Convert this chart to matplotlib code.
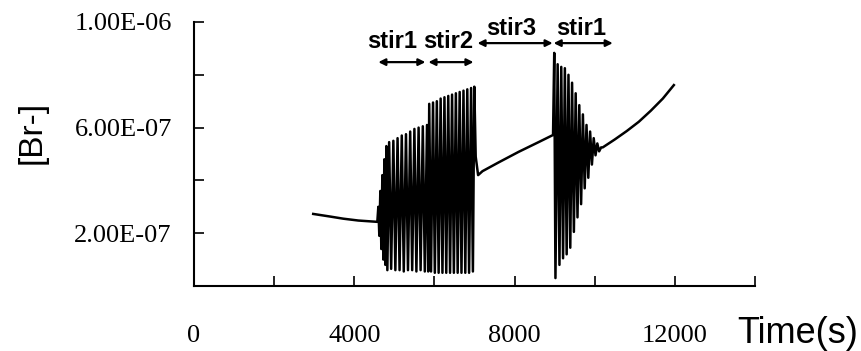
import numpy as np
import matplotlib.pyplot as plt

# concentration values are in units of 1e-7 M
scale = 1e-7

t_base = [2975, 3400, 3725, 4100, 4575]
c_base = [2.73, 2.63, 2.55, 2.48, 2.43]

t_stir1 = [4600, 4625, 4650, 4675, 4700, 4725, 4750, 4775, 4800, 4825,
           4870, 4920, 4975, 5025, 5080, 5130, 5185, 5235, 5290, 5340,
           5395, 5445, 5500, 5550, 5605, 5655, 5710, 5760, 5815, 5845]
c_stir1 = [3.0, 1.9, 3.6, 1.4, 4.2, 1.0, 4.8, 0.8, 5.3, 0.6,
           5.45, 0.65, 5.5, 0.6, 5.6, 0.6, 5.7, 0.55, 5.75, 0.6,
           5.85, 0.6, 5.95, 0.55, 6.0, 0.6, 6.05, 0.55, 6.1, 0.55]

t_stir2 = [5870, 5915, 5965, 6010, 6060, 6105, 6155, 6200, 6250, 6295,
           6345, 6390, 6440, 6485, 6535, 6580, 6630, 6675, 6725, 6770,
           6820, 6865, 6915, 6960, 6995, 7030, 7090]
c_stir2 = [6.9, 0.55, 6.95, 0.5, 7.0, 0.5, 7.1, 0.5, 7.15, 0.5,
           7.2, 0.5, 7.25, 0.5, 7.3, 0.5, 7.35, 0.5, 7.4, 0.5,
           7.45, 0.5, 7.5, 0.55, 7.55, 4.9, 4.2]

t_stir3 = [7200, 7600, 8100, 8600, 8960]
c_stir3 = [4.35, 4.68, 5.08, 5.45, 5.72]

t_stir1b = [8990, 9020, 9075, 9120, 9165, 9210, 9255, 9300, 9345, 9390,
            9435, 9480, 9525, 9570, 9615, 9660, 9705, 9750, 9795, 9840,
            9885, 9930, 9975, 10020, 10065, 10110, 10160]
c_stir1b = [8.83, 0.3, 8.4, 0.8, 8.3, 1.05, 8.25, 1.2, 8.0, 1.45,
            7.7, 2.05, 7.3, 2.6, 6.85, 3.1, 6.5, 3.7, 6.1, 4.1,
            5.85, 4.6, 5.6, 4.95, 5.4, 5.1, 5.25]

t_tail = [10200, 10500, 10800, 11100, 11400, 11700, 11975]
c_tail = [5.25, 5.55, 5.87, 6.22, 6.64, 7.1, 7.61]

stir_labels = ['stir1', 'stir2', 'stir3', 'stir1']
stir_start = [4600, 5850, 7075, 8975]
stir_end = [5775, 6975, 8950, 10450]
arrow_y = [8.48, 8.48, 9.2, 9.2]
label_x = [4950, 6350, 7925, 9650]
label_y = [9.28, 9.28, 9.75, 9.75]

xticks = [0, 2000, 4000, 6000, 8000, 10000, 12000, 14000]
xtick_labels = ['0', '', '4000', '', '8000', '', '12000', '']
yticks = [0, 2, 4, 6, 8, 10]
ytick_labels = ['', '2.00E-07', '', '6.00E-07', '', '1.00E-06']

t = t_base + t_stir1 + t_stir2 + t_stir3 + t_stir1b + t_tail
c = np.array(c_base + c_stir1 + c_stir2 + c_stir3 + c_stir1b + c_tail) * scale

fig = plt.figure(figsize=(8.62, 3.51), dpi=100)
ax = fig.add_axes([194/862, 65/351, 561/862, 264/351])
ax.plot(t, c, color='black', lw=1.8)

for i in range(len(stir_labels)):
    ax.annotate('', xy=(stir_end[i], arrow_y[i]*scale), xytext=(stir_start[i], arrow_y[i]*scale),
                arrowprops=dict(arrowstyle='<|-|>', color='black', lw=1.6, mutation_scale=10,
                                shrinkA=0, shrinkB=0))
    ax.text(label_x[i], label_y[i]*scale, stir_labels[i], ha='center', va='center',
            fontsize=17, fontweight='bold', family='Liberation Sans')

ax.set_xlim(0, 14000)
ax.set_ylim(0, 1e-6)
ax.set_xticks(xticks)
ax.set_xticklabels(xtick_labels, family='Liberation Serif', fontsize=19)
ax.set_yticks([v*scale for v in yticks])
ax.set_yticklabels(ytick_labels, family='Liberation Serif', fontsize=19)
ax.tick_params(axis='x', direction='in', length=7, width=1.2, pad=28)
ax.tick_params(axis='y', direction='in', length=7, width=1.2, pad=16)
for s in ['top', 'right']:
    ax.spines[s].set_visible(False)
for s in ['left', 'bottom']:
    ax.spines[s].set_linewidth(1.5)

fig.text(32/862, 1 - 132/351, '[Br-]', rotation=90, ha='center', va='center',
         fontsize=24, family='Liberation Sans')
fig.text(737/862, 8/351, 'Time(s)', ha='left', va='baseline',
         fontsize=26, family='Liberation Sans')

fig.savefig('out.png', dpi=100)
